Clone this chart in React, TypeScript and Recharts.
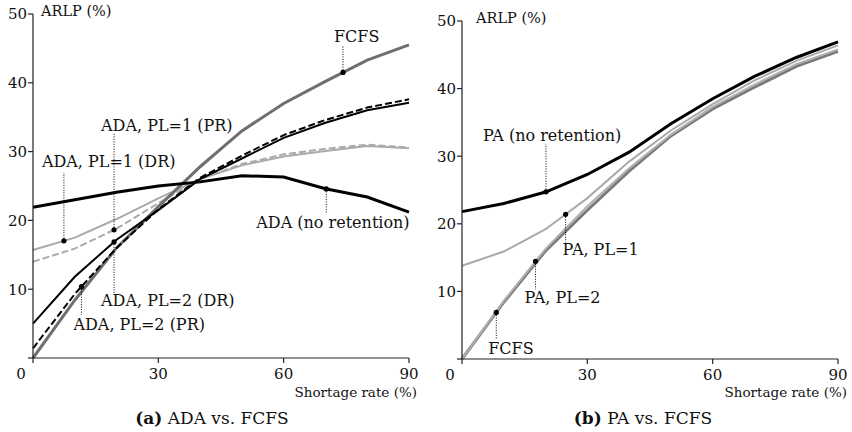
import { LineChart, Line, XAxis, YAxis, ReferenceDot } from "recharts";

// shortage rate (%) sampled every 10
const rates = [0, 10, 20, 30, 40, 50, 60, 70, 80, 90];

// ARLP (%) per scheme
const fcfs = [0, 8.4, 16.0, 22.0, 27.8, 33.0, 37.0, 40.2, 43.3, 45.5];
const adaNoRet = [21.9, 23.0, 24.1, 25.0, 25.6, 26.5, 26.3, 24.6, 23.4, 21.2];
const adaPl1Dr = [15.7, 17.5, 20.2, 23.2, 26.0, 28.0, 29.3, 30.1, 30.8, 30.5];
const adaPl1Pr = [14.0, 15.9, 18.8, 22.5, 26.0, 28.2, 29.6, 30.4, 31.0, 30.6];
const adaPl2Dr = [5.0, 11.8, 17.2, 21.5, 26.0, 29.0, 32.0, 34.2, 36.0, 37.1];
const adaPl2Pr = [1.4, 9.3, 16.0, 21.6, 26.2, 29.4, 32.4, 34.6, 36.4, 37.6];

const paNoRet = [21.8, 23.0, 24.7, 27.3, 30.6, 34.8, 38.5, 41.8, 44.6, 46.9];
const paPl1 = [13.8, 15.9, 19.2, 23.8, 29.2, 33.8, 37.7, 41.2, 44.1, 46.4];
const paPl2 = [0, 8.6, 16.3, 22.6, 28.2, 33.2, 37.3, 40.6, 43.6, 45.8];

const xTicks = [0, 30, 60, 90];
const yTicks = [0, 10, 20, 30, 40, 50];

const SERIF = "'DejaVu Serif', serif";

const leftData = rates.map((x, i) => ({
  x,
  fcfs: fcfs[i],
  noRet: adaNoRet[i],
  pl1Dr: adaPl1Dr[i],
  pl1Pr: adaPl1Pr[i],
  pl2Dr: adaPl2Dr[i],
  pl2Pr: adaPl2Pr[i],
}));

const rightData = rates.map((x, i) => ({
  x,
  fcfs: fcfs[i],
  noRet: paNoRet[i],
  pl1: paPl1[i],
  pl2: paPl2[i],
}));

// linear interpolation along a series, so a pin sits on its curve
function valueAt(ys: number[], x: number) {
  for (let i = 0; i < rates.length - 1; i++) {
    if (x <= rates[i + 1]) {
      const t = (x - rates[i]) / (rates[i + 1] - rates[i]);
      return ys[i] + t * (ys[i + 1] - ys[i]);
    }
  }
  return ys[ys.length - 1];
}

type Pin = {
  series: number[];
  at: number;
  lead: number; // dotted leader length (px), negative = upward
  dx: number;
  dy: number;
  text: string;
};

const leftPins: Pin[] = [
  { series: fcfs, at: 74.2, lead: -26, dx: -9, dy: -30, text: "FCFS" },
  { series: adaPl1Pr, at: 19.4, lead: -97, dx: -13, dy: -99, text: "ADA, PL=1 (PR)" },
  { series: adaPl1Dr, at: 7.4, lead: -68, dx: -22, dy: -74, text: "ADA, PL=1 (DR)" },
  { series: adaNoRet, at: 70.2, lead: 25, dx: -70, dy: 39, text: "ADA (no retention)" },
  { series: adaPl2Dr, at: 19.4, lead: 51, dx: -13, dy: 64, text: "ADA, PL=2 (DR)" },
  { series: adaPl2Pr, at: 11.6, lead: 28, dx: -8, dy: 43, text: "ADA, PL=2 (PR)" },
];

const rightPins: Pin[] = [
  { series: paNoRet, at: 20.1, lead: -48, dx: -63, dy: -51, text: "PA (no retention)" },
  { series: paPl1, at: 24.8, lead: 28, dx: -3, dy: 41, text: "PA, PL=1" },
  { series: paPl2, at: 17.6, lead: 28, dx: -11, dy: 42, text: "PA, PL=2" },
  { series: fcfs, at: 8.2, lead: 27, dx: -8, dy: 42, text: "FCFS" },
];

function PinMark({ cx, cy, pin }: any) {
  if (cx == null || cy == null) return null;
  return (
    <g>
      <line
        x1={cx}
        y1={cy}
        x2={cx}
        y2={cy + pin.lead}
        stroke="#000"
        strokeWidth={1}
        strokeDasharray="1 1.5"
      />
      <circle cx={cx} cy={cy} r={2.6} fill="#000" />
      <text
        x={cx + pin.dx}
        y={cy + pin.dy}
        fontFamily={SERIF}
        fontSize={16}
        fill="#111"
      >
        {pin.text}
      </text>
    </g>
  );
}

function XTick({ x, y, payload }: any) {
  return (
    <text
      x={payload.value === 0 ? x - 12 : x}
      y={y}
      dy="0.71em"
      textAnchor="middle"
      fontFamily={SERIF}
      fontSize={15}
      fill="#111"
    >
      {payload.value}
    </text>
  );
}

function YTick({ x, y, payload }: any) {
  if (payload.value === 0) return <g />;
  return (
    <text
      x={x}
      y={y}
      dy="0.36em"
      textAnchor="end"
      fontFamily={SERIF}
      fontSize={15}
      fill="#111"
    >
      {payload.value}
    </text>
  );
}

const axisLine = { stroke: "#222", strokeWidth: 1.2 };

function renderPins(pins: Pin[], prefix: string) {
  return pins.map((p, i) => (
    <ReferenceDot
      key={prefix + i}
      x={p.at}
      y={valueAt(p.series, p.at)}
      r={3}
      shape={(props: any) => <PinMark {...props} pin={p} />}
    />
  ));
}

export default function App() {
  return (
    <div
      style={{
        position: "absolute",
        left: 0,
        top: 0,
        width: 852,
        height: 432,
        background: "#fff",
      }}
    >
      <div style={{ position: "absolute", left: 0, top: 0 }}>
        <LineChart
          width={420}
          height={432}
          data={leftData}
          margin={{ top: 14, right: 11, left: 0, bottom: 0 }}
        >
          <XAxis
            dataKey="x"
            type="number"
            domain={[0, 90]}
            ticks={xTicks}
            height={74}
            tickSize={5}
            tickMargin={5}
            axisLine={axisLine}
            tickLine={axisLine}
            tick={<XTick />}
          />
          <YAxis
            type="number"
            domain={[0, 50]}
            ticks={yTicks}
            width={33}
            tickSize={5}
            tickMargin={1}
            axisLine={axisLine}
            tickLine={axisLine}
            tick={<YTick />}
          />
          <Line dataKey="pl1Dr" stroke="#aaaaaa" strokeWidth={2} dot={false} activeDot={false} isAnimationActive={false} />
          <Line dataKey="pl1Pr" stroke="#aaaaaa" strokeWidth={2} strokeDasharray="7 3" dot={false} activeDot={false} isAnimationActive={false} />
          <Line dataKey="fcfs" stroke="#6f6f6f" strokeWidth={3} dot={false} activeDot={false} isAnimationActive={false} />
          <Line dataKey="pl2Pr" stroke="#000" strokeWidth={2} strokeDasharray="7 3" dot={false} activeDot={false} isAnimationActive={false} />
          <Line dataKey="pl2Dr" stroke="#000" strokeWidth={2} dot={false} activeDot={false} isAnimationActive={false} />
          <Line dataKey="noRet" stroke="#000" strokeWidth={3} dot={false} activeDot={false} isAnimationActive={false} />
          {renderPins(leftPins, "l")}
        </LineChart>
      </div>

      <div style={{ position: "absolute", left: 420, top: 0 }}>
        <LineChart
          width={432}
          height={432}
          data={rightData}
          margin={{ top: 21, right: 14, left: 0, bottom: 0 }}
        >
          <XAxis
            dataKey="x"
            type="number"
            domain={[0, 90]}
            ticks={xTicks}
            height={73}
            tickSize={5}
            tickMargin={5}
            axisLine={axisLine}
            tickLine={axisLine}
            tick={<XTick />}
          />
          <YAxis
            type="number"
            domain={[0, 50]}
            ticks={yTicks}
            width={42}
            tickSize={5}
            tickMargin={1}
            axisLine={axisLine}
            tickLine={axisLine}
            tick={<YTick />}
          />
          <Line dataKey="fcfs" stroke="#7a7a7a" strokeWidth={3} dot={false} activeDot={false} isAnimationActive={false} />
          <Line dataKey="pl2" stroke="#b0b0b0" strokeWidth={2} dot={false} activeDot={false} isAnimationActive={false} />
          <Line dataKey="pl1" stroke="#aaaaaa" strokeWidth={2} dot={false} activeDot={false} isAnimationActive={false} />
          <Line dataKey="noRet" stroke="#000" strokeWidth={3} dot={false} activeDot={false} isAnimationActive={false} />
          {renderPins(rightPins, "r")}
        </LineChart>
      </div>

      <svg
        width={852}
        height={432}
        style={{ position: "absolute", left: 0, top: 0, pointerEvents: "none" }}
        fontFamily={SERIF}
        fill="#111"
      >
        <text x={41} y={16} fontSize={14.5}>ARLP (%)</text>
        <text x={476} y={23} fontSize={14.5}>ARLP (%)</text>
        <text x={417} y={397} fontSize={13.5} textAnchor="end">Shortage rate (%)</text>
        <text x={847} y={397} fontSize={13.5} textAnchor="end">Shortage rate (%)</text>
        <text x={212} y={424} fontSize={17} textAnchor="middle">
          <tspan fontWeight="bold">(a)</tspan> ADA vs. FCFS
        </text>
        <text x={643} y={424} fontSize={17} textAnchor="middle">
          <tspan fontWeight="bold">(b)</tspan> PA vs. FCFS
        </text>
      </svg>
    </div>
  );
}
